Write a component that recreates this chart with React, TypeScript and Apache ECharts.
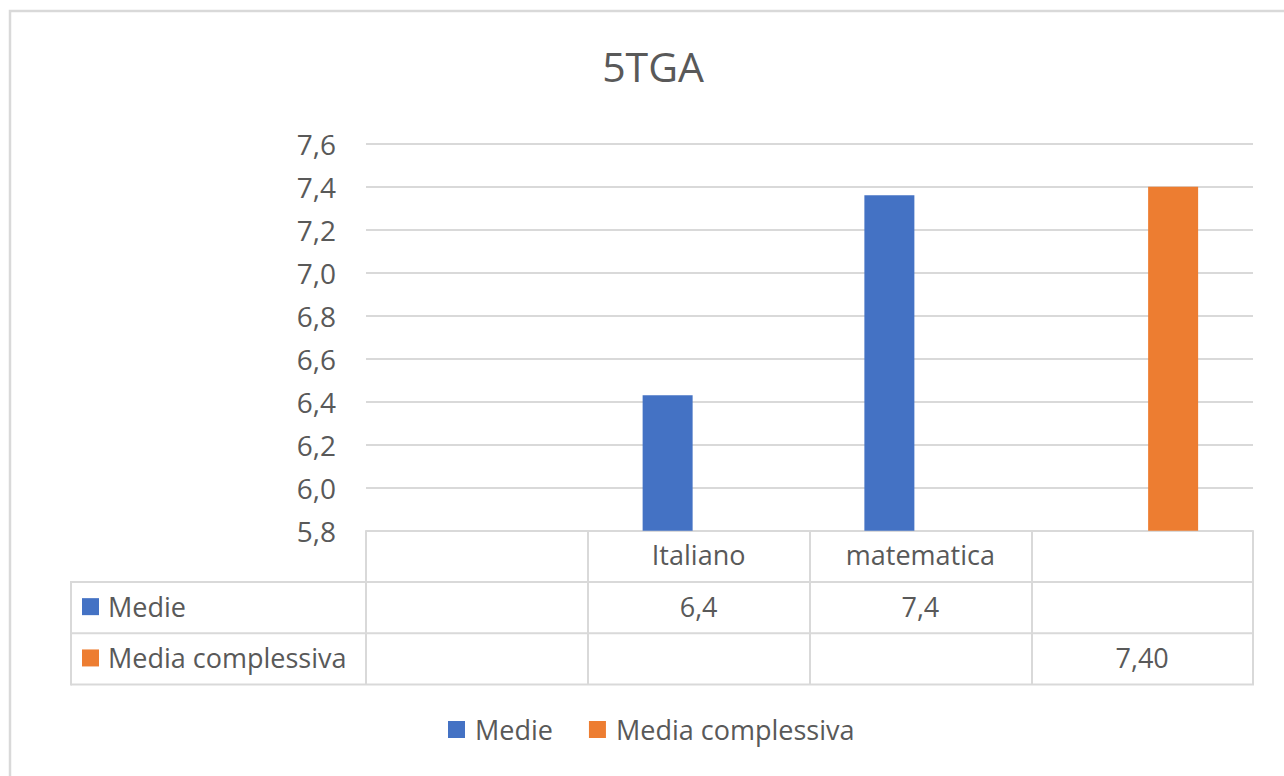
import React, { useEffect, useRef } from "react";
import * as echarts from "echarts";

const categories = ["", "Italiano", "matematica", ""];
const seriesNames = ["Medie", "Media complessiva"];
const medie = [null, 6.43, 7.36, null];
const mediaComplessiva = [null, null, null, 7.4];
const colors = ["#4472C4", "#ED7D31"];
const yMin = 5.8;
const yMax = 7.6;
const yStep = 0.2;
const titleText = "5TGA";

const fmt = (v: number | null, d: number) =>
  v == null ? "" : v.toFixed(d).replace(".", ",");
const medieRow = medie.map((v) => fmt(v, 1));
const complessivaRow = mediaComplessiva.map((v) => fmt(v, 2));

const FONT = "'Open Sans', sans-serif";
const TXT = "#595959";
const LINE = "#d9d9d9";

export default function App() {
  const ref = useRef<HTMLDivElement>(null);
  useEffect(() => {
    if (!ref.current) return;
    const chart = echarts.init(ref.current, null, { renderer: "svg" });
    const gridLeft = 366;
    const gridRight = 1253;
    const gridBottomY = 530.7;
    const rowH = 51.3;
    const tableLeft = 71;
    const hLines = [1, 2, 3].map((i) => gridBottomY + rowH * i);

    const rowAxis = (data: string[], offset: number) => ({
      type: "category",
      data,
      position: "bottom",
      offset,
      gridIndex: 0,
      axisLine: { show: false },
      axisTick: { show: false },
      splitLine: { show: false },
      axisLabel: {
        interval: 0,
        color: TXT,
        fontFamily: FONT,
        fontSize: 27,
        margin: rowH / 2 - 1.5,
        verticalAlign: "middle",
      },
    });

    const option: any = {
      animation: false,
      backgroundColor: "#ffffff",
      title: {
        text: titleText,
        left: 648,
        textAlign: "center",
        top: 40,
        textStyle: { color: TXT, fontFamily: FONT, fontSize: 41, fontWeight: "normal" },
      },
      legend: {
        data: seriesNames,
        left: 443,
        top: 711,
        icon: "rect",
        itemWidth: 17,
        itemHeight: 17,
        itemGap: 36,
        textStyle: { color: TXT, fontFamily: FONT, fontSize: 27, padding: [0, 0, 0, 5] },
      },
      grid: {
        left: gridLeft,
        right: 1284 - gridRight,
        top: gridBottomY - ((yMax - yMin) / yStep) * 43,
        bottom: 776 - gridBottomY,
        containLabel: false,
      },
      xAxis: [
        {
          type: "category",
          data: categories,
          position: "bottom",
          axisLine: { show: true, lineStyle: { color: LINE, width: 2 } },
          axisTick: {
            show: true,
            inside: false,
            length: rowH * 3,
            alignWithLabel: false,
            lineStyle: { color: LINE, width: 2 },
          },
          axisLabel: {
            interval: 0,
            color: TXT,
            fontFamily: FONT,
            fontSize: 27,
            margin: rowH / 2 - 1.5,
            verticalAlign: "middle",
          },
          splitLine: { show: false },
        },
        rowAxis(medieRow, rowH),
        rowAxis(complessivaRow, rowH * 2),
      ],
      yAxis: {
        type: "value",
        min: yMin,
        max: yMax,
        interval: yStep,
        axisLine: { show: false },
        axisTick: { show: false },
        axisLabel: {
          color: TXT,
          fontFamily: FONT,
          fontSize: 28,
          margin: 30,
          formatter: (v: number) => v.toFixed(1).replace(".", ","),
        },
        splitLine: { lineStyle: { color: LINE, width: 2 } },
      },
      series: [
        {
          name: seriesNames[0],
          type: "bar",
          data: medie,
          barWidth: 50,
          barGap: "24%",
          itemStyle: { color: colors[0] },
        },
        {
          name: seriesNames[1],
          type: "bar",
          data: mediaComplessiva,
          barWidth: 50,
          barGap: "24%",
          itemStyle: { color: colors[1] },
        },
      ],
      graphic: [
        {
          type: "rect",
          shape: { x: 10, y: 11, width: 1400, height: 900 },
          style: { fill: "none", stroke: LINE, lineWidth: 2.5 },
          silent: true,
        },
        ...hLines.map((y) => ({
          type: "line",
          shape: { x1: tableLeft, y1: y, x2: gridRight + 1, y2: y },
          style: { stroke: LINE, lineWidth: 2 },
          silent: true,
        })),
        {
          type: "line",
          shape: { x1: tableLeft, y1: hLines[0] - 1, x2: tableLeft, y2: hLines[2] + 1 },
          style: { stroke: LINE, lineWidth: 2 },
          silent: true,
        },
        ...seriesNames.flatMap((name, i) => {
          const cy = hLines[i] + rowH / 2;
          return [
            {
              type: "rect",
              shape: { x: 82, y: cy - 9.5, width: 17, height: 17 },
              style: { fill: colors[i] },
              silent: true,
            },
            {
              type: "text",
              x: 108,
              y: cy - 1.5,
              style: {
                text: name,
                fill: TXT,
                font: `27px ${FONT}`,
                verticalAlign: "middle",
                align: "left",
              },
              silent: true,
            },
          ];
        }),
      ],
    };
    chart.setOption(option);
    return () => chart.dispose();
  }, []);
  return (
    <div
      ref={ref}
      style={{ position: "absolute", left: 0, top: 0, width: 1284, height: 776 }}
    />
  );
}
